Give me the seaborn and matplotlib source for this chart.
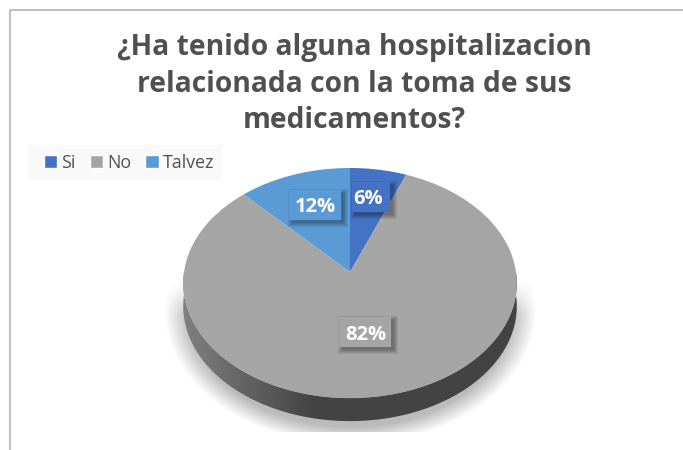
import numpy as np
import matplotlib
matplotlib.use("Agg")
import matplotlib.pyplot as plt
import seaborn as sns
from matplotlib.lines import Line2D
from matplotlib.patches import Polygon, Rectangle
from matplotlib.path import Path
from matplotlib.transforms import Transform

# datos del grafico
categorias = ["Si", "No", "Talvez"]
valores = [6, 82, 12]
etiquetas = ["6%", "82%", "12%"]
colores = ["#4472c4", "#a5a5a5", "#5b9bd5"]
titulo = "¿Ha tenido alguna hospitalizacion\nrelacionada con la toma de sus\nmedicamentos?"

sns.set_theme(style="white")
plt.rcParams["font.family"] = ["Open Sans", "DejaVu Sans"]

W, H = 683, 450
CX, CY = 350, 272   # vertice de la torta, en pixeles
SX, SY, K = 166, 114, 0.096
GROSOR = 23


def proyectar(xy):
    # perspectiva: la parte de abajo de la torta queda mas cerca
    d = 1 + K * xy[:, 1]
    return np.column_stack((CX + SX * xy[:, 0] / d, CY - SY * xy[:, 1] / d))


class Perspectiva(Transform):
    input_dims = output_dims = 2
    is_affine = False

    def transform_non_affine(self, values):
        return proyectar(np.asarray(values) / 200.0)

    def transform_path_non_affine(self, path):
        poly = path.to_polygons(closed_only=False)[0]
        return Path(self.transform_non_affine(poly))


fig = plt.figure(figsize=(W / 100, H / 100), dpi=100)
ax = fig.add_axes([0, 0, 1, 1])

# sombra difusa debajo de la torta
yy, xx = np.mgrid[0:H, 0:W]
dist = np.sqrt(((xx - CX) / 186.0) ** 2 + ((yy - 310) / 134.0) ** 2)
sombra = np.clip((1.0 - dist) / 0.13, 0, 1) * np.clip((yy - 280) / 35.0, 0, 1)
sombra[yy > 431] = 0
capa = np.zeros((H, W, 4))
capa[..., :3] = 0.62
capa[..., 3] = sombra * 0.7
ax.imshow(capa, extent=(0, W, H, 0), zorder=1, interpolation="bilinear")

# costado oscuro con degradado
t = np.linspace(0, np.pi, 200)
borde = proyectar(np.column_stack((-np.cos(t), -np.sin(t))))
abajo = borde + [0, GROSOR]
costado = Polygon(np.vstack((borde, abajo[::-1])), transform=ax.transData, fc="none", ec="none")
ax.add_patch(costado)
grad = np.clip((xx[0] - 183) / 130.0, 0, 1)
grad = (0.50 - 0.235 * grad)[None, :]
img = ax.imshow(grad, extent=(0, W, H, 0), cmap="gray", vmin=0, vmax=1, zorder=2, aspect="auto")
img.set_clip_path(costado)

# cara superior
wedges, _ = ax.pie(valores, colors=colores, startangle=90, counterclock=False, radius=200,
                   wedgeprops={"linewidth": 0, "zorder": 3})
persp = Perspectiva() + ax.transData
for w in wedges:
    w.set_transform(persp)

ax.set_aspect("auto")
ax.set_xlim(0, W)
ax.set_ylim(H, 0)
ax.axis("off")

# etiquetas con caja y sombra suave
pos_cajas = [(371, 197), (365, 332), (315, 205)]
pos_textos = [(368, 199), (366, 335), (315, 207)]
anchos = [38, 52, 52]
for txt, (x, y), (tx, ty), c, a in zip(etiquetas, pos_cajas, pos_textos, colores, anchos):
    for d in range(5, 0, -1):
        ax.add_patch(Rectangle((x - a / 2 + 4 - d, y - 15 + 4 - d), a + 2 * d - 2, 30 + 2 * d - 2,
                               fc="black", ec="none", alpha=0.07, zorder=4))
    ax.add_patch(Rectangle((x - a / 2, y - 15), a, 30, fc=c, ec="none", zorder=4.5))
    ax.text(tx, ty, txt, color="white", fontsize=14.5, fontweight="bold", ha="center", va="center", zorder=5)

# marco de la imagen
ax.add_line(Line2D([10, 10, W], [H, 10, 10], color="#bfbfbf", lw=1.5, zorder=6))

ax.text(354, 84, titulo, color="#505050", fontsize=20.3, fontweight="bold", ha="center", va="center",
        linespacing=1.33, zorder=6)

# leyenda
ax.add_patch(Rectangle((28, 145), 194, 35, fc="#f9f9f9", ec="none", zorder=5))
handles = [Rectangle((0, 0), 1, 1, fc=c) for c in colores]
ley = ax.legend(handles, categorias, loc="upper left", bbox_to_anchor=(44 / W, 1 - 154 / H), ncol=3, frameon=False,
                fontsize=12.8, handlelength=0.75, handleheight=0.75, handletextpad=0.22, columnspacing=0.8,
                labelcolor="#505050", borderpad=0, borderaxespad=0)
ley.set_zorder(6)

fig.savefig("out.png", dpi=100)
